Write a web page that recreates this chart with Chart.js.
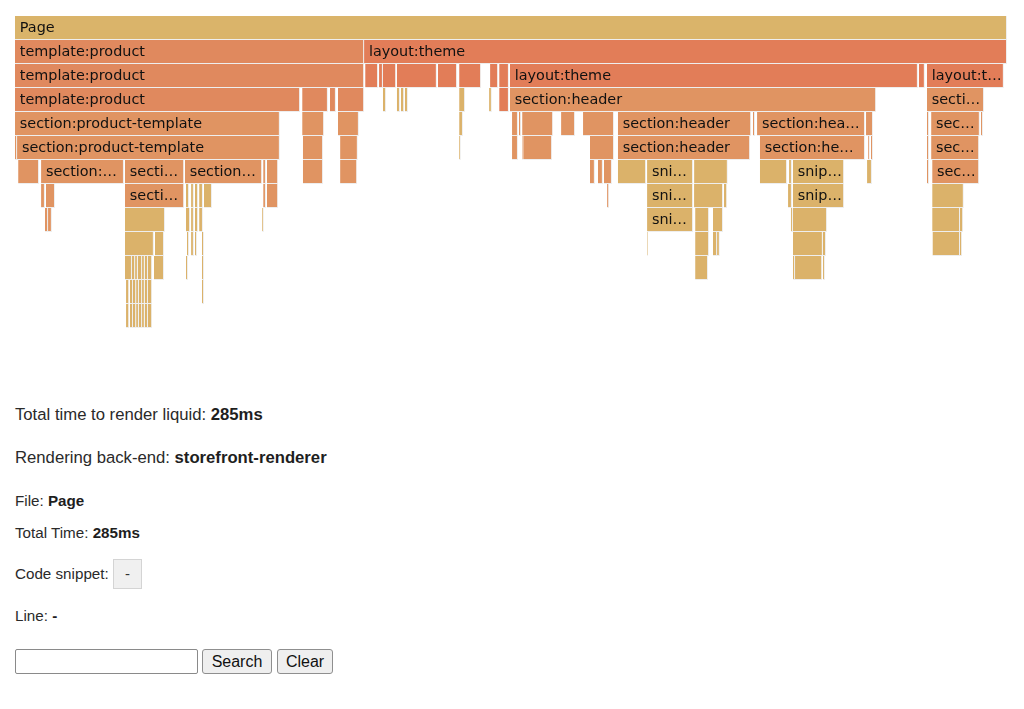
<!DOCTYPE html>
<html>
<head>
<meta charset="utf-8">
<script src="https://cdn.jsdelivr.net/npm/chart.js@4.4.1/dist/chart.umd.min.js"></script>
<style>
  html, body { margin: 0; padding: 0; background: #ffffff; width: 1024px; height: 709px; overflow: hidden; }
  #wrap { position: absolute; left: 15px; top: 16px; width: 992px; height: 312px; }
  .t { position: absolute; left: 15px; font-family: "Liberation Sans", Arial, sans-serif; color: #2a2a2a; white-space: nowrap; }
  .t b { color: #1e1e1e; }
  .big { font-size: 16.7px; line-height: 20px; }
  .small { font-size: 15.2px; line-height: 18px; }
  #code { position: absolute; left: 113px; top: 559px; width: 27px; height: 28px; background: #f0f0f0; border: 1px solid #d4d4d4; font-family: "Liberation Sans", Arial, sans-serif; font-size: 15px; line-height: 28px; text-align: center; color: #333; }
  #search { position: absolute; left: 15px; top: 649px; width: 179px; height: 21px; border: 1px solid #8a8a8a; border-radius: 2px; background: #fff; padding: 1px; }
  .btn { position: absolute; top: 649px; height: 23px; border: 1px solid #8f8f8f; border-radius: 3px; background: #efefef; font-family: "Liberation Sans", Arial, sans-serif; font-size: 16px; line-height: 23px; text-align: center; color: #111; }
</style>
</head>
<body>
<div id="wrap"><canvas id="flame"></canvas></div>

<div class="t big" style="top:405px">Total time to render liquid: <b>285ms</b></div>
<div class="t big" style="top:448px">Rendering back-end: <b>storefront-renderer</b></div>
<div class="t small" style="top:492px">File: <b>Page</b></div>
<div class="t small" style="top:524px">Total Time: <b>285ms</b></div>
<div class="t small" style="top:565px">Code snippet:</div>
<div id="code">-</div>
<div class="t small" style="top:607px">Line: <b>-</b></div>
<div id="search"></div>
<div class="btn" style="left:202px;width:68px">Search</div>
<div class="btn" style="left:277px;width:54px">Clear</div>

<script>
// Flame graph rows (depth levels, top = 0)
const rowLabels = ['0','1','2','3','4','5','6','7','8','9','10','11','12'];

// Frames: depth row, start (ms), end (ms), visible label, node kind
const frameRows = [
  0,
  1, 1,
  2, 2, 2, 2, 2, 2, 2, 2, 2, 2, 2, 2,
  3, 3, 3, 3, 3, 3, 3, 3, 3, 3, 3, 3, 3,
  4, 4, 4, 4, 4, 4, 4, 4, 4, 4, 4, 4, 4, 4, 4, 4,
  5, 5, 5, 5, 5, 5, 5, 5, 5, 5, 5, 5, 5, 5, 5,
  6, 6, 6, 6, 6, 6, 6, 6, 6, 6, 6, 6, 6, 6, 6, 6, 6, 6, 6, 6,
  7, 7, 7, 7, 7, 7, 7, 7, 7, 7, 7, 7, 7, 7, 7, 7, 7,
  8, 8, 8, 8, 8, 8, 8, 8, 8, 8, 8, 8, 8, 8, 8,
  9, 9, 9, 9, 9, 9, 9, 9, 9, 9, 9, 9, 9, 9, 9,
  10, 10, 10, 10, 10, 10, 10, 10, 10, 10, 10, 10, 10, 10,
  11, 11, 11, 11, 11, 11, 11, 11, 11,
  12, 12, 12, 12, 12, 12, 12, 12
];
const frameStarts = [
  0,
  0, 100.3,
  0, 100.6, 104.6, 105.7, 109.7, 121.5, 127.6, 136.5, 139.1, 142.2, 259.7, 262.0,
  0, 82.5, 90.5, 92.8, 105.7, 109.7, 110.9, 112.0, 127.6, 136.2, 139.1, 142.2, 262.0,
  0, 82.5, 92.8, 127.6, 142.8, 144.8, 145.7, 156.9, 163.2, 173.2, 212.0, 213.2, 244.5, 262.0, 263.2, 277.5,
  0, 0.6, 82.7, 93.4, 127.6, 142.8, 145.7, 146.0, 165.2, 173.2, 214.0, 245.1, 245.9, 262.0, 263.2,
  0.9, 7.5, 31.6, 48.8, 71.3, 72.4, 82.7, 93.4, 165.2, 167.5, 169.2, 173.2, 181.6, 195.1, 214.0, 222.4, 223.5, 244.8, 262.0, 263.5,
  7.5, 8.9, 31.6, 49.1, 50.6, 51.7, 52.9, 54.3, 71.3, 72.4, 170.1, 181.6, 195.1, 203.7, 222.1, 223.5, 263.5,
  8.6, 9.5, 31.6, 49.1, 50.6, 51.7, 52.9, 71.0, 181.6, 195.4, 200.5, 222.9, 223.5, 263.5, 271.5,
  31.6, 40.2, 49.4, 50.6, 51.7, 53.7, 181.6, 195.4, 200.5, 201.7, 223.5, 232.1, 263.5, 263.7, 271.5,
  31.6, 33.6, 34.5, 35.3, 36.5, 37.3, 38.2, 39.9, 49.1, 53.7, 195.4, 223.5, 224.1, 232.1,
  31.9, 33.0, 33.9, 34.8, 35.6, 36.5, 37.3, 38.2, 53.7,
  31.9, 33.0, 33.9, 34.8, 35.6, 36.5, 37.3, 38.2
];
const frameEnds = [
  285,
  100.3, 285,
  100.3, 104.3, 105.7, 109.5, 121.2, 127.0, 133.9, 138.8, 141.9, 259.4, 261.4, 284.1,
  81.9, 89.9, 92.2, 100.3, 106.6, 110.6, 111.8, 112.9, 129.3, 137.0, 141.9, 247.4, 278.4,
  76.1, 88.8, 98.8, 128.7, 144.5, 145.4, 154.6, 160.9, 172.1, 211.5, 212.6, 244.2, 246.5, 262.6, 277.2, 278.1,
  0.6, 76.1, 88.5, 98.5, 128.1, 144.5, 146.0, 154.3, 172.1, 211.2, 244.2, 245.6, 246.5, 262.6, 277.0,
  6.9, 31.3, 48.6, 71.0, 72.1, 75.6, 88.5, 98.3, 166.6, 168.9, 171.5, 181.3, 194.8, 204.8, 221.8, 223.2, 238.2, 246.2, 262.6, 277.0,
  8.6, 11.5, 48.6, 50.0, 51.4, 52.6, 54.0, 56.6, 72.1, 75.6, 170.7, 194.8, 203.4, 204.6, 223.2, 238.2, 272.6,
  9.5, 10.6, 43.1, 50.3, 51.4, 52.6, 54.0, 71.5, 194.8, 199.4, 203.4, 223.5, 233.3, 271.5, 272.4,
  39.9, 42.8, 50.0, 51.4, 52.3, 54.3, 181.9, 199.4, 201.7, 202.5, 232.1, 233.0, 263.7, 271.5, 272.1,
  33.6, 34.5, 35.3, 36.5, 37.3, 38.2, 39.4, 42.8, 49.7, 54.3, 199.1, 224.1, 231.9, 232.7,
  32.8, 33.9, 34.8, 35.6, 36.5, 37.3, 38.2, 39.4, 54.3,
  32.8, 33.9, 34.8, 35.6, 36.5, 37.3, 38.2, 39.4
];
const frameNames = [
  'Page',
  'template:product', 'layout:theme',
  'template:product', '', '', '', '', '', '', '', '', 'layout:theme', '', 'layout:t…',
  'template:product', '', '', '', '', '', '', '', '', '', '', 'section:header', 'secti…',
  'section:product-template', '', '', '', '', '', '', '', '', 'section:header', '', 'section:hea…', '', '', 'sec…', '',
  '', 'section:product-template', '', '', '', '', '', '', '', 'section:header', 'section:he…', '', '', '', 'sec…',
  '', 'section:…', 'secti…', 'section…', '', '', '', '', '', '', '', '', 'sni…', '', '', '', 'snip…', '', '', 'sec…',
  '', '', 'secti…', '', '', '', '', '', '', '', '', 'sni…', '', '', '', 'snip…', '',
  '', '', '', '', '', '', '', '', 'sni…', '', '', '', '', '', '',
  '', '', '', '', '', '', '', '', '', '', '', '', '', '', '',
  '', '', '', '', '', '', '', '', '', '', '', '', '', '',
  '', '', '', '', '', '', '', '', '',
  '', '', '', '', '', '', '', ''
];
const frameKinds = [
  'P',
  'T', 'L',
  'T', 'L', 'L', 'L', 'L', 'L', 'L', 'L', 'L', 'L', 'L', 'L',
  'T', 'T', 'T', 'T', 'N', 'N', 'N', 'N', 'N', 'N', 'L', 'S', 'S',
  'S', 'S', 'S', 'N', 'S', 'S', 'S', 'S', 'S', 'S', 'S', 'S', 'S', 'S', 'S', 'S',
  'S', 'S', 'S', 'S', 'N', 'S', 'S', 'S', 'S', 'S', 'S', 'S', 'S', 'S', 'S',
  'S', 'S', 'S', 'S', 'S', 'S', 'S', 'S', 'S', 'S', 'S', 'N', 'N', 'N', 'N', 'N', 'N', 'N', 'S', 'S',
  'S', 'S', 'S', 'N', 'N', 'N', 'N', 'N', 'S', 'S', 'S', 'N', 'N', 'N', 'N', 'N', 'N',
  'S', 'S', 'N', 'N', 'N', 'N', 'N', 'N', 'N', 'N', 'N', 'N', 'N', 'N', 'N',
  'N', 'N', 'N', 'N', 'N', 'N', 'N', 'N', 'N', 'N', 'N', 'N', 'N', 'N', 'N',
  'N', 'N', 'N', 'N', 'N', 'N', 'N', 'N', 'N', 'N', 'N', 'N', 'N', 'N',
  'N', 'N', 'N', 'N', 'N', 'N', 'N', 'N', 'N',
  'N', 'N', 'N', 'N', 'N', 'N', 'N', 'N'
];
const totalMs = 285;

const kindColors = { P: '#DAB46A', T: '#E0895E', L: '#E27D58', S: '#E09462', N: '#DBB26A' };

const points = frameRows.map((r, i) => ({ y: rowLabels[r], x: [frameStarts[i], frameEnds[i]] }));

const labelPlugin = {
  id: 'flameLabels',
  afterDatasetsDraw(chart) {
    const ctx = chart.ctx;
    const meta = chart.getDatasetMeta(0);
    ctx.save();
    ctx.font = '14.4px "DejaVu Sans", Verdana, sans-serif';
    ctx.fillStyle = '#111111';
    ctx.textBaseline = 'middle';
    meta.data.forEach((el, i) => {
      const name = frameNames[i];
      if (!name) return;
      const p = el.getProps(['x', 'y', 'base', 'height'], true);
      const left = Math.min(p.x, p.base);
      const w = Math.abs(p.x - p.base);
      ctx.save();
      ctx.beginPath();
      ctx.rect(left, p.y - p.height / 2, w - 1, p.height);
      ctx.clip();
      ctx.fillText(name, left + 4.8, p.y + 0.5);
      ctx.restore();
    });
    ctx.restore();
  }
};

new Chart(document.getElementById('flame'), {
  type: 'bar',
  data: {
    labels: rowLabels,
    datasets: [{
      data: points,
      backgroundColor: c => kindColors[frameKinds[c.dataIndex]],
      borderColor: '#EEEEEE',
      borderWidth: { top: 0, left: 0, right: 1, bottom: 1 },
      borderSkipped: false,
      categoryPercentage: 1,
      barPercentage: 1,
      inflateAmount: 0
    }]
  },
  options: {
    indexAxis: 'y',
    responsive: true,
    maintainAspectRatio: false,
    animation: false,
    events: [],
    layout: { padding: 0 },
    plugins: { legend: { display: false }, tooltip: { enabled: false } },
    scales: {
      x: { type: 'linear', min: 0, max: totalMs, display: false },
      y: { type: 'category', display: false, offset: true }
    }
  },
  plugins: [labelPlugin]
});
</script>
</body>
</html>
